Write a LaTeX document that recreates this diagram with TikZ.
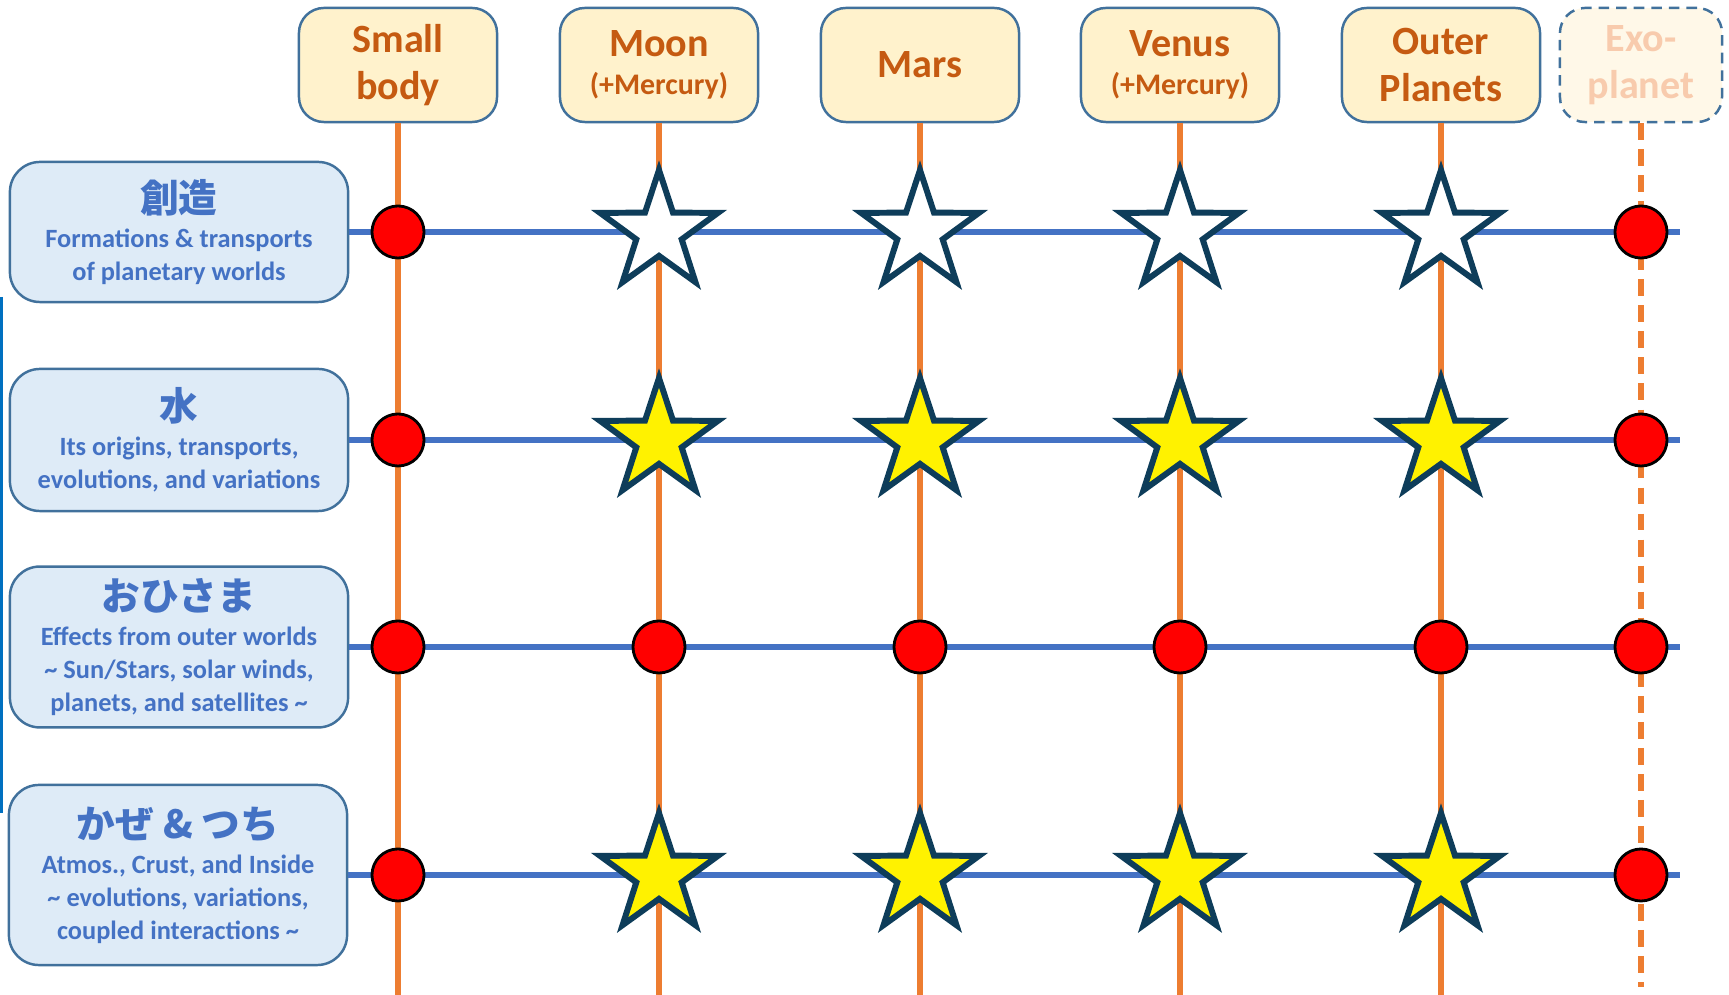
\documentclass[tikz,border=0pt]{standalone}
\usepackage{fontspec}
\setmainfont{Carlito}
\newfontfamily\jp{Noto Sans CJK JP}
\usetikzlibrary{shapes.geometric}

\definecolor{bodyblue}{HTML}{4472C4}
\definecolor{edgeblue}{HTML}{41719C}
\definecolor{rowfill}{HTML}{DEEBF7}
\definecolor{headfill}{HTML}{FFF2CC}
\definecolor{exofill}{HTML}{FFF8E8}
\definecolor{headtext}{HTML}{C55A11}
\definecolor{exotext}{HTML}{F8CBAD}
\definecolor{axisorange}{HTML}{ED7D31}
\definecolor{starline}{HTML}{0E3D5A}
\definecolor{barblue}{HTML}{0070C0}

\tikzset{
  head/.style={draw=edgeblue, line width=0.7pt, fill=headfill, rounded corners=0.25cm,
    minimum width=1.98cm, minimum height=1.14cm, align=center, text=headtext,
    font=\bfseries\fontsize{11.4}{13.4}\selectfont},
  exohead/.style={head, draw=edgeblue, dash pattern=on 3pt off 2pt, fill=exofill,
    minimum width=1.62cm, text=exotext},
  theme/.style={draw=edgeblue, line width=0.7pt, fill=rowfill, rounded corners=0.3cm,
    minimum width=3.38cm, align=center, text=bodyblue,
    font=\bfseries\fontsize{7.5}{9.4}\selectfont},
  hline/.style={bodyblue, line width=1.9pt},
  vline/.style={axisorange, line width=1.7pt},
  dot/.style={circle, draw=black, line width=0.8pt, fill=red, minimum size=0.52cm, inner sep=0pt},
  openstar/.style={star, star points=5, star point ratio=2.6, draw=starline, line width=1.7pt,
    fill=white, minimum size=1.24cm, inner sep=0pt},
  fullstar/.style={openstar, fill=yellow},
}

\newcommand{\jph}[1]{{\jp\bfseries\fontsize{11}{13}\selectfont #1}\\[0.6pt]}
\newcommand{\sub}[1]{{\fontsize{8.5}{10}\selectfont #1}}

\begin{document}
\begin{tikzpicture}[x=0.01cm, y=-0.01cm]

    \useasboundingbox (0,0) rectangle (1729,995);

    % Topo
    \node[head] (sb) at (398,65) {Small\\body};
    \node[head, font=\bfseries\fontsize{11.4}{10.9}\selectfont] (mo) at (659,65) {Moon\\\sub{(+Mercury)}};
    \node[head] (ma) at (920,65) {Mars};
    \node[head, font=\bfseries\fontsize{11.4}{10.9}\selectfont] (ve) at (1180,65) {Venus\\\sub{(+Mercury)}};
    \node[head] (op) at (1441,65) {Outer\\Planets};
    \node[exohead] (ex) at (1641,65) {Exo-\\planet};

    % Temas
    \node[theme, minimum height=1.40cm] (r1) at (179,232)
      {\jph{創造}Formations \& transports\\of planetary worlds};
    \node[theme, minimum height=1.42cm] (r2) at (179,440)
      {\jph{水}Its origins, transports,\\evolutions, and variations};
    \node[theme, minimum height=1.50cm] (r3) at (179,647)
      {\jph{おひさま}Effects from outer worlds\\\textasciitilde{} Sun/Stars, solar winds,\\planets, and satellites \textasciitilde};
    \node[theme, minimum height=1.80cm] (r4) at (178,875)
      {\jph{かぜ \& つち}Atmos., Crust, and Inside\\\textasciitilde{} evolutions, variations,\\coupled interactions \textasciitilde};

    \coordinate (bot) at (0,995);
    \coordinate (dbot) at (0,987);
    \coordinate (rend) at (1680,0);

    % Linhas
    \draw[vline] (sb) -- (sb |- bot);
    \draw[vline] (mo) -- (mo |- bot);
    \draw[vline] (ma) -- (ma |- bot);
    \draw[vline] (ve) -- (ve |- bot);
    \draw[vline] (op) -- (op |- bot);
    \draw[vline, dash pattern=on 4.8pt off 2.6pt] (ex) -- (ex |- dbot);

    \draw[hline] (r1) -- (rend |- r1);
    \draw[hline] (r2) -- (rend |- r2);
    \draw[hline] (r3) -- (rend |- r3);
    \draw[hline] (r4) -- (rend |- r4);

    \draw[barblue, line width=0.85pt] (1.5,297) -- (1.5,813);

    % Marcas
    \node[dot] (a1) at (sb |- r1) {};
    \node[dot] (b1) at (mo |- r1) {};
    \node[dot] (c1) at (ma |- r1) {};
    \node[dot] (d1) at (ve |- r1) {};
    \node[dot] (e1) at (op |- r1) {};
    \node[dot] (f1) at (ex |- r1) {};

    \node[dot] (a2) at (sb |- r2) {};
    \node[dot] (b2) at (mo |- r2) {};
    \node[dot] (c2) at (ma |- r2) {};
    \node[dot] (d2) at (ve |- r2) {};
    \node[dot] (e2) at (op |- r2) {};
    \node[dot] (f2) at (ex |- r2) {};

    \node[dot] (a3) at (sb |- r3) {};
    \node[dot] (b3) at (mo |- r3) {};
    \node[dot] (c3) at (ma |- r3) {};
    \node[dot] (d3) at (ve |- r3) {};
    \node[dot] (e3) at (op |- r3) {};
    \node[dot] (f3) at (ex |- r3) {};

    \node[dot] (a4) at (sb |- r4) {};
    \node[dot] (b4) at (mo |- r4) {};
    \node[dot] (c4) at (ma |- r4) {};
    \node[dot] (d4) at (ve |- r4) {};
    \node[dot] (e4) at (op |- r4) {};
    \node[dot] (f4) at (ex |- r4) {};

    % Estrelas
    \node[openstar] (s1b) at (b1) {};
    \node[openstar] (s1c) at (c1) {};
    \node[openstar] (s1d) at (d1) {};
    \node[openstar] (s1e) at (e1) {};

    \node[fullstar] (s2b) at (b2) {};
    \node[fullstar] (s2c) at (c2) {};
    \node[fullstar] (s2d) at (d2) {};
    \node[fullstar] (s2e) at (e2) {};

    \node[fullstar] (s4b) at (b4) {};
    \node[fullstar] (s4c) at (c4) {};
    \node[fullstar] (s4d) at (d4) {};
    \node[fullstar] (s4e) at (e4) {};

\end{tikzpicture}
\end{document}
